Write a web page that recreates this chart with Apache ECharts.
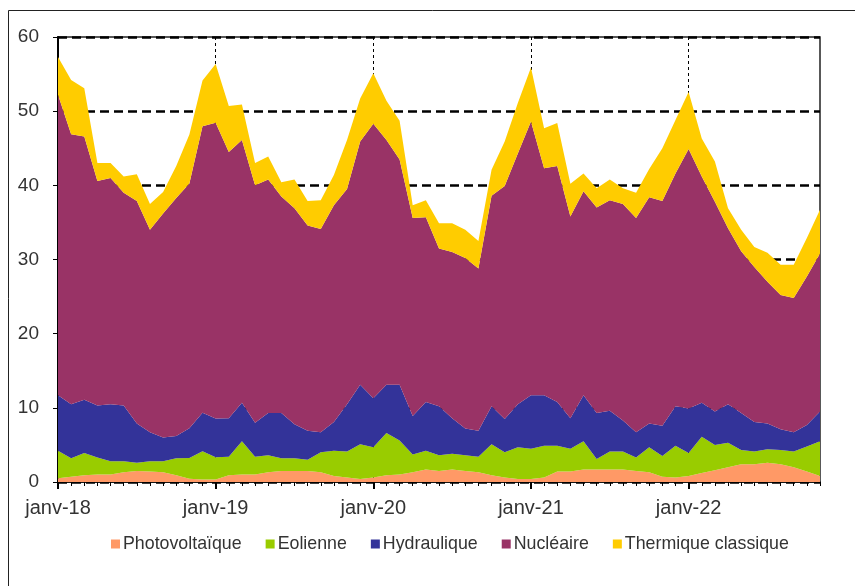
<!DOCTYPE html>
<html>
<head>
<meta charset="utf-8">
<script src="https://cdn.jsdelivr.net/npm/echarts@6/dist/echarts.min.js"></script>
<style>
html,body{margin:0;padding:0;background:#fff;}
#c{width:855px;height:586px;}
</style>
</head>
<body>
<div id="c"></div>
<script>
// Tick labels / categories (monthly, janv-18 .. nov-22)
const monthNames = ['janv','févr','mars','avr','mai','juin','juil','août','sept','oct','nov','déc'];
const years = ['18','19','20','21','22'];
const nMonths = 59;

// Series values
const photovoltaique = [0.5,0.7,0.9,1.0,1.0,1.3,1.5,1.4,1.3,0.9,0.45,0.35,0.35,0.9,1.0,1.0,1.3,1.5,
  1.5,1.5,1.3,0.8,0.6,0.4,0.6,0.9,1.0,1.3,1.7,1.5,1.7,1.5,1.3,0.9,0.6,0.4,0.4,0.6,1.4,
  1.4,1.7,1.7,1.7,1.7,1.5,1.3,0.7,0.6,0.8,1.2,1.6,2.0,2.4,2.4,2.6,2.4,2.0,1.4,0.8];
const eolienne = [3.7,2.5,3.0,2.3,1.8,1.5,1.1,1.4,1.5,2.3,2.8,3.8,3.0,2.5,4.5,2.4,2.3,1.7,
  1.7,1.5,2.7,3.4,3.5,4.7,4.1,5.7,4.6,2.4,2.5,2.1,2.1,2.1,2.1,4.2,3.4,4.3,4.1,4.3,3.5,
  3.1,3.8,1.4,2.4,2.4,1.8,3.4,2.8,4.3,3.1,4.9,3.4,3.3,1.9,1.7,1.8,1.9,2.1,3.4,4.7];
const hydraulique = [7.5,7.3,7.2,7.0,7.7,7.5,5.3,3.9,3.2,3.0,4.0,5.2,5.2,5.2,5.2,4.6,5.7,6.1,
  4.6,3.9,2.7,3.9,6.4,8.0,6.6,6.5,7.5,5.2,6.6,6.6,4.8,3.6,3.5,5.1,4.5,5.8,7.2,6.8,5.9,
  4.1,6.2,6.2,5.5,4.2,3.4,3.2,4.1,5.3,6.0,4.6,4.5,5.2,5.0,4.0,3.5,2.8,2.6,2.9,4.0];
const nucleaire = [40.5,36.4,35.5,30.3,30.5,28.7,30.0,27.3,30.2,32.1,33.0,38.6,39.9,35.9,35.4,32.0,31.5,29.2,
  29.1,27.7,27.4,29.2,29.0,32.8,37.0,33.0,30.4,26.7,24.9,21.3,22.4,23.0,21.9,28.4,31.4,33.8,36.9,30.6,31.8,
  27.2,27.5,27.7,28.4,29.2,28.9,30.5,30.3,31.4,35.0,30.5,28.3,23.7,21.8,20.9,19.1,18.1,18.1,20.0,21.3];
const thermique = [5.1,7.3,6.5,2.4,2.0,2.2,3.6,3.5,2.9,4.3,6.6,6.2,7.9,6.2,4.8,3.0,3.1,1.9,
  3.9,3.3,3.9,4.1,6.6,5.8,6.8,5.3,5.2,1.7,2.3,3.4,3.9,3.8,3.7,3.5,6.0,6.8,7.3,5.4,5.8,
  4.4,2.4,2.6,2.8,2.1,3.4,3.8,7.1,7.2,7.7,5.1,5.4,2.7,2.9,2.7,3.9,4.1,4.5,5.2,5.9];

const seriesNames = ['Photovoltaïque','Eolienne','Hydraulique','Nucléaire','Thermique classique'];
const seriesColors = ['#FF9966','#99CC00','#333399','#993366','#FFCC00'];
const seriesData = [photovoltaique, eolienne, hydraulique, nucleaire, thermique];

const categories = [];
for (let i = 0; i < nMonths; i++) {
  categories.push(monthNames[i % 12] + '-' + years[Math.floor(i / 12)]);
}

const FONT = '"Liberation Sans", Arial, sans-serif';
const chart = echarts.init(document.getElementById('c'), null, {renderer: 'canvas'});

const series = seriesNames.map((name, k) => ({
  name: name,
  type: 'line',
  stack: 'total',
  data: seriesData[k],
  symbol: 'none',
  showSymbol: false,
  lineStyle: {width: 0},
  areaStyle: {color: seriesColors[k], opacity: 1},
  itemStyle: {color: seriesColors[k]},
  emphasis: {disabled: true},
  z: 2
}));

chart.setOption({
  animation: false,
  backgroundColor: '#fff',
  textStyle: {fontFamily: FONT},
  grid: {left: 58, right: 35, top: 37, bottom: 104, show: true, borderColor: '#222', borderWidth: 1.5, backgroundColor: 'transparent'},
  legend: {
    data: seriesNames,
    left: 106,
    top: 530,
    icon: 'rect',
    itemWidth: 9,
    itemHeight: 9,
    itemGap: 24,
    textStyle: {fontFamily: FONT, fontSize: 17.8, color: '#333', padding: [0,0,0,-2]},
    selectedMode: false
  },
  xAxis: [{
    type: 'category',
    data: categories,
    boundaryGap: false,
    axisLine: {show: true, lineStyle: {color: '#000', width: 1.5}},
    axisTick: {show: true, interval: 0, length: 4, lineStyle: {color: '#000', width: 1}},
    axisLabel: {
      interval: 11,
      margin: 16,
      color: '#333',
      fontSize: 20,
      fontFamily: FONT
    },
    splitLine: {
      show: true,
      interval: function (i) { return i % 12 === 0 && i > 0; },
      lineStyle: {color: '#000', width: 1, type: [3, 3]}
    }
  }, {
    type: 'category',
    data: categories,
    boundaryGap: false,
    position: 'bottom',
    axisLine: {show: false},
    axisTick: {show: true, interval: 11, length: 7, lineStyle: {color: '#000', width: 2}},
    axisLabel: {show: false},
    splitLine: {show: false}
  }],
  yAxis: {
    type: 'value',
    min: 0,
    max: 60,
    interval: 10,
    axisLine: {show: true, lineStyle: {color: '#000', width: 2}},
    axisTick: {show: true, length: 5, lineStyle: {color: '#000', width: 1}},
    axisLabel: {margin: 19, color: '#333', fontSize: 19, fontFamily: FONT},
    splitLine: {show: true, lineStyle: {color: '#000', width: 2.5, type: [9, 5]}}
  },
  graphic: [{
    type: 'rect',
    shape: {x: 8.5, y: 10.5, width: 900, height: 700},
    style: {fill: 'none', stroke: '#222', lineWidth: 1},
    silent: true
  }],
  series: series
});
</script>
</body>
</html>
